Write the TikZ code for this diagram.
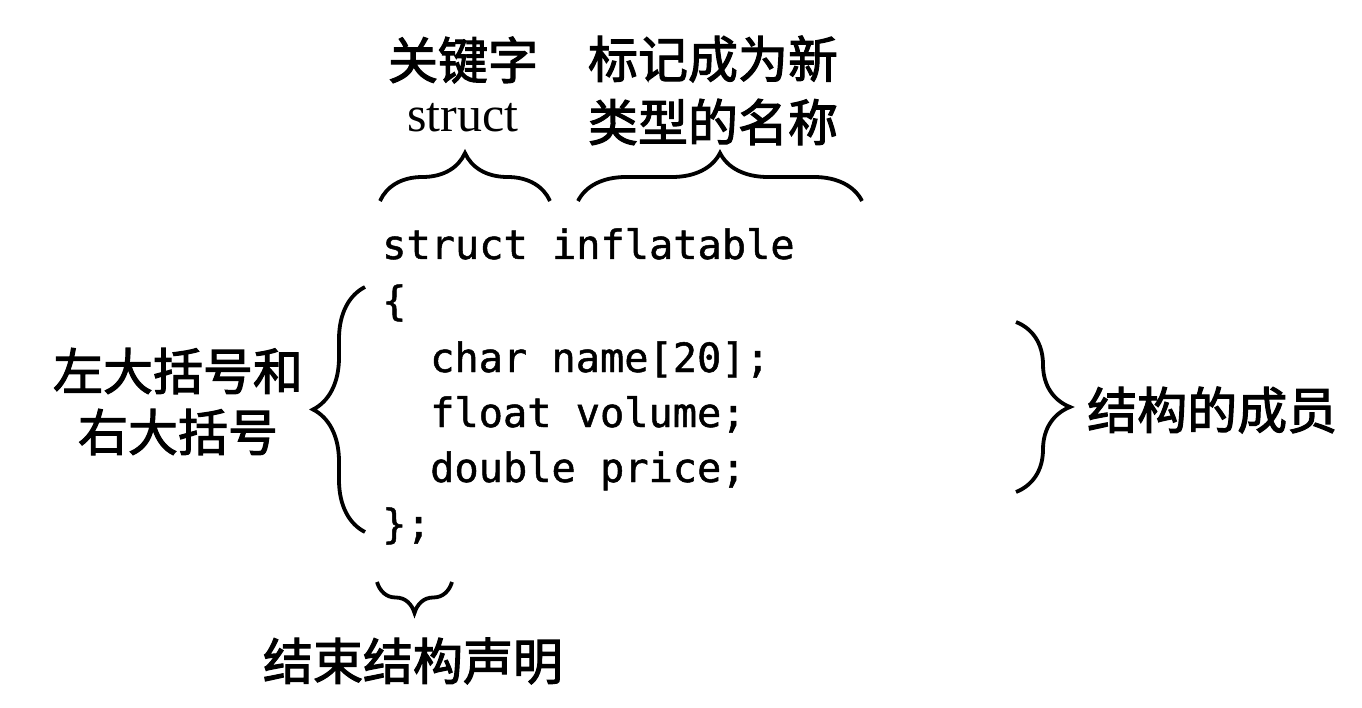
\documentclass[tikz,border=0pt]{standalone}
\usepackage{fontspec}
\usetikzlibrary{decorations.pathreplacing}
\newfontfamily\cjk[FakeBold=2.2]{Noto Sans CJK SC}
\newfontfamily\tms{Liberation Serif}
\newfontfamily\codefont[FakeBold=1.2]{DejaVu Sans Mono}
\tikzset{
  lab/.style={font=\cjk\fontsize{50}{60}\selectfont, inner sep=0pt},
  code/.style={font=\codefont\fontsize{40.3}{48}\selectfont, anchor=base west, inner sep=0pt},
  br/.style={decorate, decoration={brace, amplitude=#1}, line width=3.8pt}
}
\begin{document}
\begin{tikzpicture}[x=1pt,y=-1pt]
\useasboundingbox[fill=white] (0,0) rectangle (1362,708);
% top labels
\node[lab] (kw) at (463,60) {关键字};
\node[font=\tms\fontsize{50}{60}\selectfont, anchor=base, inner sep=0pt] (kws) at (463,132) {struct};
\node[lab] (nm1) at (713,59) {标记成为新};
\node[lab] (nm2) at (713,122) {类型的名称};
% code
\node[code] (c1) at (382,259) {struct inflatable};
\node[code] (c2) at (382,315) {\{};
\node[code] (c3) at (430,372) {char name[20];};
\node[code] (c4) at (430,427) {float volume;};
\node[code] (c5) at (430,482) {double price;};
\node[code] (c6) at (382,538) {\};};
% side labels
\node[lab] (l1) at (178,371) {左大括号和};
\node[lab] (l2) at (178,432) {右大括号};
\node[lab, anchor=west] (r1) at (1087,410) {结构的成员};
\node[lab] (b1) at (413,661) {结束结构声明};
% braces
\coordinate (t1a) at (380,201); \coordinate (t1b) at (550,201);
\coordinate (t2a) at (578,201); \coordinate (t2b) at (862,201);
\coordinate (lba) at (365,532); \coordinate (lbb) at (365,287);
\coordinate (rba) at (1016,322); \coordinate (rbb) at (1016,492);
\coordinate (bba) at (452,582); \coordinate (bbb) at (377,582);
\draw[br=48] (t1a) -- (t1b);
\draw[br=48] (t2a) -- (t2b);
\draw[br=52] (lba) -- (lbb);
\draw[br=54] (rba) -- (rbb);
\draw[br=31] (bba) -- (bbb);
\end{tikzpicture}
\end{document}
